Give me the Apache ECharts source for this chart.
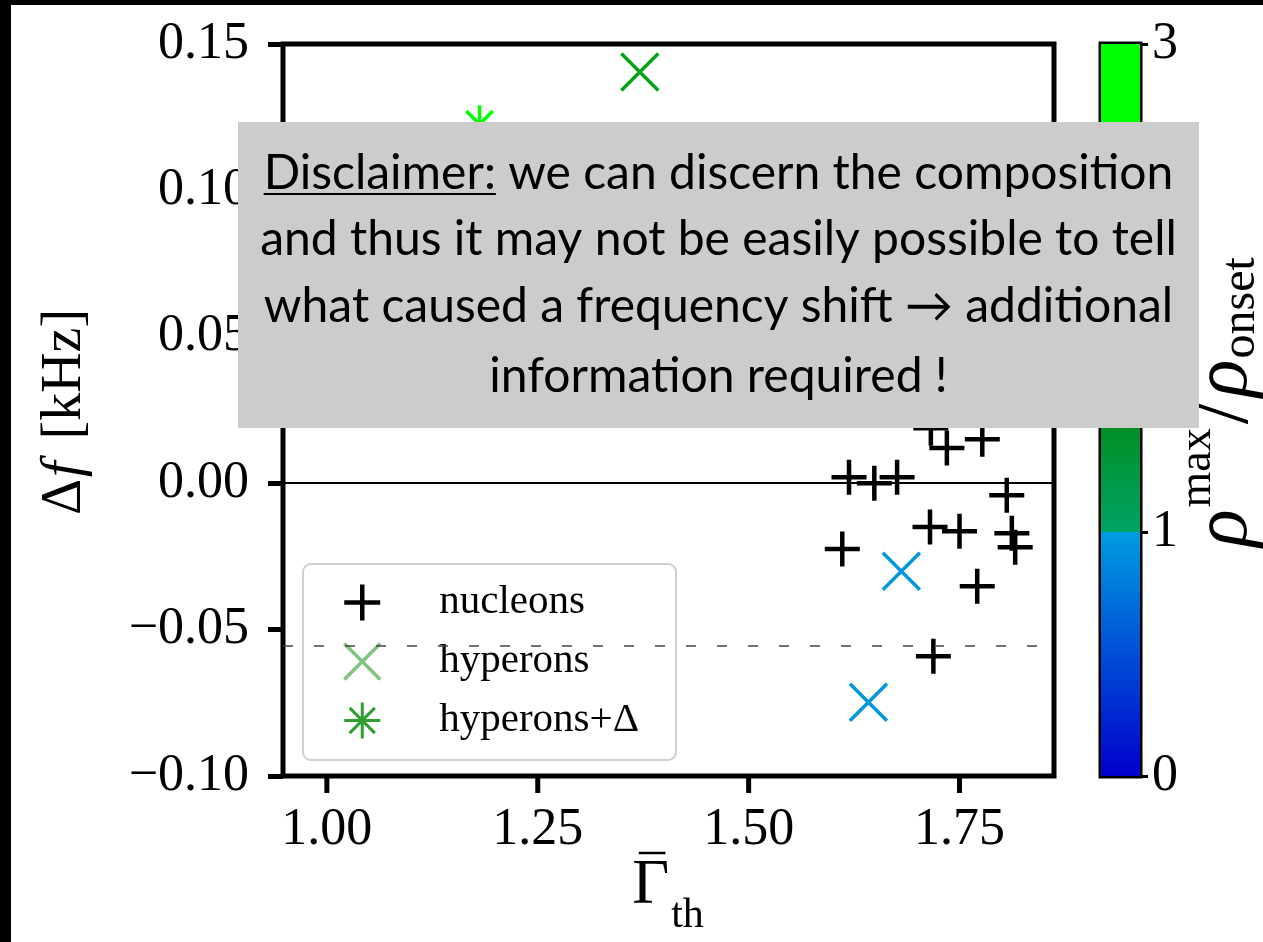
<!DOCTYPE html>
<html><head><meta charset="utf-8">
<script src="https://cdn.jsdelivr.net/npm/echarts@6/dist/echarts.min.js"></script>
<style>html,body{margin:0;padding:0;background:#fff}#c{width:1263px;height:942px}</style>
</head><body><div id="c"></div>
<script>
// ---------- data ----------
const nucleonX = [1.619, 1.649, 1.676, 1.735, 1.777, 1.716, 1.806, 1.715, 1.750, 1.812, 1.816, 1.611, 1.771, 1.719];
const nucleonY = [0.0020, 0.0000, 0.0020, 0.0120, 0.0150, 0.0188, -0.0041, -0.0150, -0.0164, -0.0171, -0.0219, -0.0225, -0.0352, -0.0591];
const hyperonX = [1.371, 1.681, 1.642];
const hyperonY = [0.1404, -0.0301, -0.0748];
const hyperonRho = [1.7, 0.97, 0.97];
const deltaX = [1.181];
const deltaY = [0.1226];
const deltaRho = [2.8];
const xTicks = [1.00, 1.25, 1.50, 1.75];
const cbarTicks = [0, 1, 3];
const xMin = 0.948, xMax = 1.862, yMin = -0.1, yMax = 0.15;
const zeroLine = 0;
const dashedLine = -0.0555;
const cmapStops = [[0, '#0000cc'], [0.999, '#009ce0'], [1, '#00a366'], [1.5, '#008c1a'], [2.5, '#00ff00'], [3, '#00ff00']];
const legendNames = ['nucleons', 'hyperons', 'hyperons+Δ'];
const disclaimerHead = 'Disclaimer:';
const disclaimerLines = [' we can discern the composition', 'and thus it may not be easily possible to tell', 'what caused a frequency shift → additional', 'information required !'];

// ---------- helpers ----------
function hex2rgb(h){return [parseInt(h.slice(1,3),16),parseInt(h.slice(3,5),16),parseInt(h.slice(5,7),16)];}
function cmap(v){
  for(let i=0;i<cmapStops.length-1;i++){
    const [a,ca]=cmapStops[i],[b,cb]=cmapStops[i+1];
    if(v>=a && v<=b){
      const t=(b===a)?0:(v-a)/(b-a); const A=hex2rgb(ca),B=hex2rgb(cb);
      return 'rgb('+A.map((x,k)=>Math.round(x+(B[k]-x)*t)).join(',')+')';
    }
  }
  return cmapStops[cmapStops.length-1][1];
}
const ctx=document.createElement('canvas').getContext('2d');
function tw(text,font){ctx.font=font;return ctx.measureText(text).width;}

const serif='"Liberation Serif", "DejaVu Serif", serif';
const plusPath='path://M10,0L10,20M0,10L20,10';
const xPath='path://M0,0L20,20M20,0L0,20';
const starPath='path://M10,0L10,20M0,10L20,10M3,3L17,17M17,3L3,17';
const G0={left:283,top:44,width:771,height:732};

const chart=echarts.init(document.getElementById('c'));

function makeOption(extraGraphics){
  // disclaimer layout
  const dFont=48, dFamily='Lato';
  const dCenter=718.5;
  const dBase=[189,255,322,392];
  const fstr=dFont+'px '+dFamily;
  const line1W=tw(disclaimerHead+disclaimerLines[0],fstr);
  const headW=tw(disclaimerHead,fstr);
  const l1x=dCenter-line1W/2;
  const midOff=dFont*0.33;
  const disclaimerEls=[
    {type:'rect',shape:{x:238,y:122,width:961,height:306},style:{fill:'#cccccc'},z:100},
    {type:'text',x:l1x,y:dBase[0]-midOff,style:{text:disclaimerHead,font:fstr,fill:'#000',align:'left',verticalAlign:'middle'},z:101},
    {type:'text',x:l1x+headW,y:dBase[0]-midOff,style:{text:disclaimerLines[0],font:fstr,fill:'#000',align:'left',verticalAlign:'middle'},z:101},
    {type:'line',shape:{x1:l1x,y1:dBase[0]+5,x2:l1x+headW,y2:dBase[0]+5},style:{stroke:'#000',lineWidth:2},z:101}
  ];
  for(let i=1;i<4;i++){
    disclaimerEls.push({type:'text',x:dCenter,y:dBase[i]-midOff,style:{text:disclaimerLines[i],font:fstr,fill:'#000',align:'center',verticalAlign:'middle'},z:101});
  }
  function seqGroup(tokens){
    let x=0; const ch=[];
    tokens.forEach(t=>{
      ch.push({type:'text',x:x,y:t.dy||0,style:{text:t.text,font:t.font,fill:'#000',align:'left',verticalAlign:'middle'}});
      x+=tw(t.text,t.font)+(t.gap||0);
    });
    ch.forEach(c=>{c.x-=x/2;});
    return ch;
  }
  const cbLabel={type:'group',x:1225,y:402,rotation:Math.PI/2,children:seqGroup([
    {text:'ρ',font:'italic 78px '+serif,gap:2},
    {text:'max',font:'46px '+serif,dy:-27,gap:4},
    {text:'/',font:'84px '+serif,gap:4},
    {text:'ρ',font:'italic 78px '+serif,gap:1},
    {text:'onset',font:'48px '+serif,dy:16}
  ]),z:50};
  const yLabel={type:'group',x:65,y:412,rotation:Math.PI/2,children:seqGroup([
    {text:'Δ',font:'56px '+serif,gap:2},
    {text:'f',font:'italic 56px '+serif,gap:22},
    {text:'[kHz]',font:'56px '+serif}
  ]),z:50};
  const gFont='64px '+serif, sFont='42px '+serif;
  const gW=tw('Γ',gFont), sW=tw('th',sFont);
  const xTot=gW+2+sW;
  const xLabel={type:'group',x:668,y:886,children:[
    {type:'text',x:-xTot/2,y:0,style:{text:'Γ',font:gFont,fill:'#000',align:'left',verticalAlign:'middle'}},
    {type:'line',shape:{x1:-xTot/2+gW*0.18,y1:-33,x2:-xTot/2+gW*0.9,y2:-33},style:{stroke:'#000',lineWidth:2.5}},
    {type:'text',x:-xTot/2+gW+2,y:30,style:{text:'th',font:sFont,fill:'#000',align:'left',verticalAlign:'middle'}}
  ],z:50};

  const gradStops=cmapStops.map(([v,c])=>({offset:(3-v)/3,color:c})).reverse();

  return {
    backgroundColor:'#fff',
    animation:false,
    grid:[
      {left:G0.left,top:G0.top,width:G0.width,height:G0.height,show:true,borderColor:'#000',borderWidth:5,backgroundColor:'transparent'},
      {left:1101,top:44,width:39,height:732,show:true,borderColor:'#000',borderWidth:5,backgroundColor:'transparent'}
    ],
    xAxis:[
      {type:'value',gridIndex:0,position:'bottom',min:xMin,max:xMax,
       axisLine:{show:false,onZero:false},splitLine:{show:false},
       axisTick:{show:false},
       axisLabel:{customValues:xTicks,formatter:v=>v.toFixed(2),fontFamily:serif,fontSize:52,color:'#000',margin:28}},
      {type:'category',gridIndex:1,data:['cb'],show:false}
    ],
    yAxis:[
      {type:'value',gridIndex:0,min:yMin,max:yMax,interval:0.05,axisLine:{show:false,onZero:false},splitLine:{show:false},
       axisTick:{show:true,length:15,lineStyle:{width:5,color:'#000'}},
       axisLabel:{formatter:v=>(v<-1e-9?'−':'')+Math.abs(v).toFixed(2),fontFamily:serif,fontSize:52,color:'#000',margin:34}},
      {type:'value',gridIndex:1,min:0,max:3,position:'right',axisLine:{show:false,onZero:false},splitLine:{show:false},
       axisTick:{show:true,customValues:cbarTicks,length:8,lineStyle:{width:3,color:'#000'}},
       axisLabel:{customValues:cbarTicks,formatter:v=>String(v),fontFamily:serif,fontSize:52,color:'#000',margin:12}}
    ],
    legend:{
      data:[
        {name:legendNames[0],icon:plusPath,itemStyle:{color:'transparent',borderColor:'#000',borderWidth:4.5,opacity:1}},
        {name:legendNames[1],icon:xPath,itemStyle:{color:'transparent',borderColor:'#80c480',borderWidth:3.5,opacity:1}},
        {name:legendNames[2],icon:starPath,itemStyle:{color:'transparent',borderColor:'#2f9f2f',borderWidth:3,opacity:1}}
      ],
      orient:'vertical',left:303,top:564,itemWidth:36,itemHeight:36,itemGap:18,
      padding:[18,37,19,39],backgroundColor:'rgba(255,255,255,0.8)',borderColor:'#d0d0d0',borderWidth:2,borderRadius:8,
      textStyle:{fontFamily:serif,fontSize:41,lineHeight:36,color:'#000',padding:[0,0,0,54]},
      selectedMode:false
    },
    series:[
      {name:legendNames[0],type:'scatter',xAxisIndex:0,yAxisIndex:0,symbol:plusPath,symbolSize:35,
       itemStyle:{color:'transparent',borderColor:'#000',borderWidth:4.5,opacity:1},
       data:nucleonX.map((x,i)=>[x,nucleonY[i]]),z:3,
       markLine:{silent:true,symbol:'none',precision:5,label:{show:false},animation:false,
         data:[{yAxis:zeroLine,lineStyle:{color:'#000',width:2,type:'solid'}},
               {yAxis:dashedLine,lineStyle:{color:'#444',width:1.6,type:[10,21]}}]}},
      {name:legendNames[1],type:'scatter',xAxisIndex:0,yAxisIndex:0,symbol:xPath,symbolSize:37,
       itemStyle:{color:'transparent',borderColor:'#80c480',borderWidth:3.5,opacity:1},
       data:hyperonX.map((x,i)=>({value:[x,hyperonY[i]],itemStyle:{borderColor:cmap(hyperonRho[i])}})),z:3},
      {name:legendNames[2],type:'scatter',xAxisIndex:0,yAxisIndex:0,symbol:starPath,symbolSize:38,
       itemStyle:{color:'transparent',borderColor:'#2f9f2f',borderWidth:3.5,opacity:1},
       data:deltaX.map((x,i)=>({value:[x,deltaY[i]],itemStyle:{borderColor:cmap(deltaRho[i])}})),z:3},
      {name:'colorbar',type:'bar',xAxisIndex:1,yAxisIndex:1,barWidth:'100%',silent:true,
       data:[3],itemStyle:{color:new echarts.graphic.LinearGradient(0,0,0,1,gradStops)},z:1}
    ],
    graphic:[
      {type:'rect',shape:{x:0,y:0,width:1263,height:5},style:{fill:'#000'},z:200},
      {type:'rect',shape:{x:0,y:0,width:11,height:942},style:{fill:'#000'},z:200},
      yLabel,xLabel,cbLabel
    ].concat(disclaimerEls).concat(extraGraphics)
  };
}

chart.setOption(makeOption([]));

// x-axis ticks: positions from the library's own x scale
function tickPixel(v){
  let p=null;
  try{ p=chart.convertToPixel({gridIndex:0},[v,yMin]); }catch(e){ p=null; }
  if(!p || !isFinite(p[0]) || !isFinite(p[1])){
    try{ p=chart.convertToPixel({xAxisIndex:0,yAxisIndex:0},[v,yMin]); }catch(e){ p=null; }
  }
  if(!p || !isFinite(p[0]) || !isFinite(p[1])){
    p=[G0.left+(v-xMin)/(xMax-xMin)*G0.width, G0.top+G0.height];
  }
  return p;
}
const tickEls=xTicks.map((v,i)=>{
  const p=tickPixel(v);
  return {type:'line',id:'xtick'+i,shape:{x1:p[0],y1:p[1]+2,x2:p[0],y2:p[1]+17},style:{stroke:'#000',lineWidth:5},z:300};
});
chart.setOption(makeOption(tickEls),true);
</script></body></html>
